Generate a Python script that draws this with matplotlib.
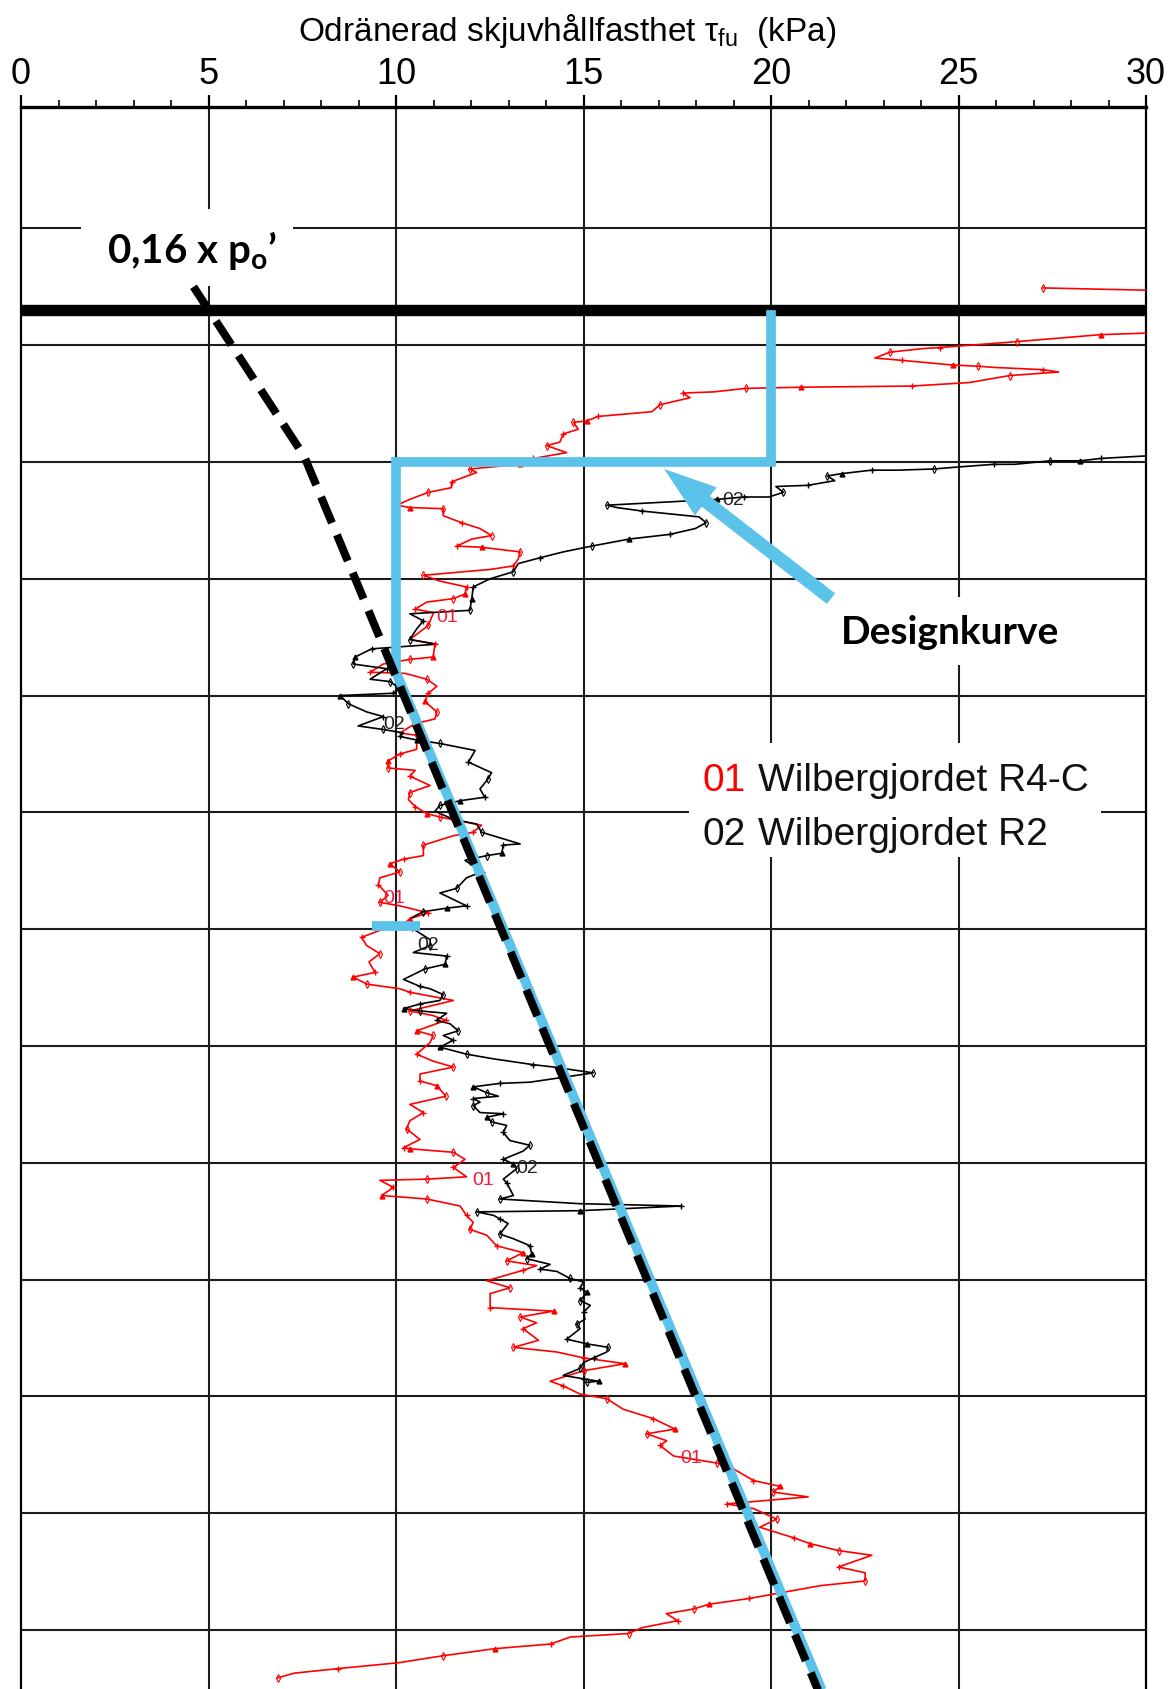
import matplotlib
matplotlib.use("Agg")
import matplotlib.pyplot as plt
from matplotlib import font_manager
from matplotlib.patches import Rectangle

# x-axis (kPa) and depth grid (m)
x_ticks = [0, 5, 10, 15, 20, 25, 30]
depth_lines = list(range(1, 14))

# 01 Wilbergjordet R4-C (red)
r4c_tau = [27.26, 31.5, 31.5, 28.79, 26.55, 25.33, 24.50, 24.03, 23.17, 22.77,
           23.49, 24.84, 25.51, 25.92, 27.26, 27.67, 26.37, 25.29, 23.76, 20.80,
           19.32, 18.47, 17.65, 17.84, 17.04, 16.82, 15.39, 15.08, 14.73, 14.86,
           14.46, 14.37, 14.02, 14.55, 13.66, 13.31, 11.97, 12.15, 11.48, 11.48,
           10.86, 10.37, 10.02, 10.37, 11.26, 11.26, 11.75, 12.24, 12.55, 12.02,
           11.62, 12.28, 13.31, 13.26, 13.13, 12.51, 10.73, 11.17, 11.88, 11.84,
           11.53, 10.82, 10.51, 11.00, 10.86, 10.37, 11.04, 10.99, 10.37, 9.66,
           9.31, 10.24, 10.82, 11.09, 10.86, 10.77, 11.09, 11.04, 10.51, 10.10,
           10.55, 10.55, 10.10, 9.79, 9.79, 10.51, 10.37, 10.91, 10.37, 10.33,
           10.51, 10.82, 11.17, 12.28, 12.06, 11.53, 10.73, 10.73, 10.20, 9.84,
           10.10, 9.57, 9.53, 9.79, 9.57, 10.10, 10.86, 10.37, 10.15, 9.57,
           9.08, 9.22, 9.57, 9.28, 9.44, 8.86, 9.22, 10.10, 10.37, 11.53,
           10.37, 10.99, 11.33, 10.55, 10.99, 10.91, 10.55, 10.99, 11.53, 10.64,
           10.64, 11.09, 11.33, 10.37, 10.73, 10.37, 10.28, 10.64, 10.20, 10.37,
           11.53, 11.84, 11.53, 11.88, 10.82, 9.57, 9.93, 9.62, 10.82, 11.71,
           11.88, 12.06, 11.97, 12.42, 12.68, 13.39, 12.95, 13.75, 13.39, 12.42,
           13.04, 12.51, 12.51, 14.20, 13.31, 13.75, 13.39, 13.80, 13.13, 14.29,
           15.00, 16.11, 15.00, 14.11, 14.46, 14.91, 15.62, 16.06, 16.86, 17.44,
           16.68, 17.22, 17.04, 17.40, 18.55, 19.00, 19.53, 20.24, 20.06, 20.99,
           18.82, 19.53, 20.15, 19.70, 20.60, 21.04, 21.80, 22.69, 21.80, 22.51,
           22.51, 21.32, 19.42, 18.34, 17.94, 17.21, 17.51, 16.56, 16.20, 14.65,
           14.12, 12.63, 11.26, 10.07, 8.46, 7.27, 6.85]
r4c_depth = [1.51, 1.54, 1.88, 1.91, 1.97, 2.00, 2.02, 2.03, 2.06, 2.11,
             2.13, 2.17, 2.18, 2.19, 2.21, 2.23, 2.26, 2.32, 2.35, 2.36,
             2.37, 2.40, 2.41, 2.45, 2.51, 2.57, 2.61, 2.65, 2.66, 2.72,
             2.76, 2.83, 2.86, 2.92, 2.97, 3.02, 3.06, 3.09, 3.17, 3.22,
             3.26, 3.32, 3.37, 3.39, 3.40, 3.46, 3.52, 3.57, 3.63, 3.66,
             3.72, 3.73, 3.77, 3.83, 3.89, 3.92, 3.97, 4.02, 4.07, 4.13,
             4.17, 4.20, 4.26, 4.29, 4.40, 4.52, 4.56, 4.67, 4.69, 4.73,
             4.80, 4.81, 4.86, 4.92, 4.98, 5.05, 5.14, 5.20, 5.24, 5.32,
             5.34, 5.46, 5.50, 5.56, 5.62, 5.64, 5.69, 5.77, 5.83, 5.89,
             5.95, 6.01, 6.04, 6.11, 6.17, 6.20, 6.28, 6.37, 6.40, 6.44,
             6.51, 6.56, 6.62, 6.71, 6.77, 6.80, 6.86, 6.91, 6.97, 7.01,
             7.07, 7.14, 7.21, 7.28, 7.37, 7.41, 7.47, 7.51, 7.54, 7.61,
             7.70, 7.74, 7.78, 7.87, 7.91, 7.97, 8.07, 8.13, 8.18, 8.24,
             8.30, 8.34, 8.43, 8.50, 8.57, 8.64, 8.71, 8.80, 8.87, 8.88,
             8.91, 8.97, 9.04, 9.12, 9.14, 9.15, 9.21, 9.28, 9.31, 9.37,
             9.45, 9.51, 9.57, 9.62, 9.71, 9.77, 9.84, 9.88, 9.92, 10.01,
             10.07, 10.12, 10.24, 10.27, 10.32, 10.37, 10.42, 10.52, 10.58, 10.62,
             10.67, 10.72, 10.78, 10.87, 10.91, 10.98, 11.02, 11.11, 11.19, 11.28,
             11.32, 11.38, 11.42, 11.51, 11.57, 11.62, 11.72, 11.77, 11.82, 11.86,
             11.92, 11.96, 12.05, 12.12, 12.21, 12.26, 12.32, 12.36, 12.46, 12.51,
             12.58, 12.62, 12.73, 12.78, 12.82, 12.86, 12.92, 12.98, 13.03, 13.06,
             13.12, 13.16, 13.22, 13.28, 13.33, 13.37, 13.41]

# 02 Wilbergjordet R2 (black)
r2_tau = [31.0, 29.91, 28.79, 28.25, 27.45, 26.50, 25.95, 25.11, 24.34, 23.40,
          22.68, 21.88, 21.50, 21.70, 20.98, 20.13, 20.33, 19.94, 19.27, 18.57,
          15.63, 15.88, 16.56, 18.08, 18.27, 17.98, 17.30, 16.22, 15.22, 14.46,
          13.84, 13.26, 13.13, 12.51, 12.06, 12.02, 11.97, 10.37, 10.73, 10.55,
          10.37, 11.08, 9.35, 8.91, 8.86, 9.31, 9.75, 9.31, 9.84, 10.10,
          9.93, 8.51, 8.73, 9.22, 9.66, 8.99, 9.66, 10.20, 10.10, 10.55,
          11.17, 12.11, 11.93, 12.55, 12.46, 12.24, 12.37, 11.71, 11.17, 11.04,
          11.53, 12.15, 12.28, 13.31, 12.86, 12.82, 12.42, 11.84, 12.28, 11.88,
          11.62, 11.17, 11.88, 11.35, 10.73, 10.37, 10.42, 10.91, 10.91, 10.46,
          11.35, 11.31, 10.77, 10.20, 10.64, 10.91, 11.26, 11.17, 10.64, 10.20,
          10.64, 11.35, 11.09, 11.44, 11.66, 11.26, 11.53, 11.17, 11.88, 12.60,
          13.66, 14.20, 15.26, 13.57, 12.77, 12.06, 12.42, 12.73, 12.06, 12.24,
          12.06, 12.24, 12.86, 12.42, 12.55, 12.95, 12.86, 13.04, 13.57, 13.39,
          12.86, 13.13, 13.22, 12.86, 12.95, 13.13, 12.77, 14.90, 17.61, 14.91,
          12.15, 12.60, 12.77, 12.99, 12.77, 13.13, 13.57, 13.62, 13.48, 14.11,
          13.84, 14.29, 14.64, 15.00, 14.91, 15.09, 14.91, 15.18, 15.00, 15.04,
          14.82, 14.91, 14.55, 15.09, 15.66, 15.62, 15.27, 15.00, 14.91, 14.46,
          15.00, 15.40, 15.09]
r2_depth = [2.93, 2.95, 2.97, 2.99, 2.99, 3.02, 3.02, 3.04, 3.06, 3.07,
            3.07, 3.10, 3.12, 3.16, 3.20, 3.21, 3.26, 3.30, 3.30, 3.32,
            3.37, 3.39, 3.42, 3.47, 3.52, 3.57, 3.62, 3.66, 3.72, 3.77,
            3.82, 3.87, 3.94, 4.00, 4.07, 4.17, 4.27, 4.30, 4.36, 4.43,
            4.52, 4.56, 4.60, 4.67, 4.73, 4.75, 4.77, 4.86, 4.88, 4.94,
            4.98, 5.00, 5.07, 5.14, 5.18, 5.26, 5.29, 5.32, 5.35, 5.38,
            5.41, 5.47, 5.57, 5.66, 5.71, 5.80, 5.87, 5.90, 5.94, 5.99,
            6.06, 6.10, 6.17, 6.27, 6.28, 6.35, 6.37, 6.41, 6.51, 6.56,
            6.65, 6.69, 6.80, 6.82, 6.85, 6.91, 6.99, 7.09, 7.14, 7.20,
            7.23, 7.30, 7.34, 7.43, 7.49, 7.51, 7.56, 7.61, 7.64, 7.68,
            7.70, 7.72, 7.78, 7.81, 7.87, 7.91, 7.95, 8.01, 8.07, 8.11,
            8.16, 8.18, 8.23, 8.31, 8.32, 8.35, 8.40, 8.43, 8.45, 8.48,
            8.51, 8.57, 8.58, 8.61, 8.65, 8.68, 8.74, 8.81, 8.85, 8.90,
            8.97, 9.01, 9.05, 9.14, 9.17, 9.28, 9.31, 9.35, 9.37, 9.41,
            9.42, 9.45, 9.48, 9.52, 9.61, 9.65, 9.71, 9.78, 9.82, 9.87,
            9.91, 9.93, 9.99, 10.02, 10.07, 10.11, 10.18, 10.22, 10.28, 10.34,
            10.38, 10.42, 10.51, 10.55, 10.58, 10.62, 10.67, 10.71, 10.76, 10.82,
            10.85, 10.87, 10.88]

# 0,16 x po' line
po_tau = [4.6, 7.55, 21.3]
po_depth = [1.50, 2.95, 13.55]

# Designkurve
design_tau = [20, 20, 10, 10, 21.4]
design_depth = [1.70, 3.0, 3.0, 4.80, 13.55]
stub_tau = [9.35, 10.64]
stub_depth = [6.97, 6.97]

excavation_depth = 1.70

# curve labels along the profiles
curve_labels = ["02", "01", "02", "01", "02", "01", "02", "01"]
curve_label_tau = [19.0, 11.37, 9.95, 9.95, 10.87, 12.32, 13.5, 17.86]
curve_label_depth = [3.32, 4.32, 5.24, 6.73, 7.13, 9.14, 9.04, 11.52]

RED = "#ff0000"
BLUE = "#5bc2ea"
GRID = "#1c1c1c"

names = {f.name for f in font_manager.fontManager.ttflist}
narrow = "Liberation Sans Narrow" if "Liberation Sans Narrow" in names else "Liberation Sans"
bold_font = "Lato" if "Lato" in names else "Open Sans"

plt.rcParams["font.family"] = ["Liberation Sans", "DejaVu Sans"]
plt.rcParams["mathtext.fontset"] = "custom"
plt.rcParams["mathtext.bf"] = bold_font + ":bold"
plt.rcParams["mathtext.rm"] = bold_font

fig = plt.figure(figsize=(11.75, 16.9), dpi=100)
ax = fig.add_axes([21 / 1175, 0, 1125 / 1175, 1 - 108 / 1690])
ax.set_xlim(0, 30)
ax.set_ylim(13.505, -0.039)

# grid
for v in x_ticks[1:-1]:
    ax.axvline(v, color=GRID, lw=1.5, zorder=1)
for d in depth_lines:
    ax.axhline(d, color=GRID, lw=1.5, zorder=1)

# excavation level
ax.axhline(excavation_depth, color="black", lw=8.2, zorder=3)

# CPT profiles
ax.plot(r4c_tau, r4c_depth, color=RED, lw=1.2, zorder=4)
ax.plot(r2_tau, r2_depth, color="black", lw=1.2, zorder=4)
for col, xs, ys in [(RED, r4c_tau, r4c_depth), ("black", r2_tau, r2_depth)]:
    ax.plot(xs, ys, ls="none", marker="d", ms=4, mfc="none", mec=col, mew=0.8,
            markevery=(0, 4), zorder=4)
    ax.plot(xs, ys, ls="none", marker="+", ms=5, mec=col, mew=1.0,
            markevery=(2, 4), zorder=4)
    ax.plot(xs, ys, ls="none", marker="^", ms=3.5, mfc=col, mec=col,
            markevery=(3, 8), zorder=4)

for txt, t, d in zip(curve_labels, curve_label_tau, curve_label_depth):
    ax.text(t, d, txt, color="#ee1c3a" if txt == "01" else "#222222",
            fontsize=14, ha="center", va="center", zorder=5)

# design curve and 0,16 po' line
ax.plot(design_tau, design_depth, color=BLUE, lw=7, solid_capstyle="butt",
        solid_joinstyle="miter", zorder=6)
ax.plot(stub_tau, stub_depth, color=BLUE, lw=7, solid_capstyle="butt", zorder=6)
ax.plot(po_tau, po_depth, color="black", lw=5.8, dashes=(3.5, 1.6),
        dash_capstyle="butt", zorder=7)

ax.annotate("", xy=(17.15, 3.06), xytext=(21.6, 4.17),
            arrowprops=dict(arrowstyle="simple,head_length=0.95,head_width=0.64,tail_width=0.24",
                            mutation_scale=40, color=BLUE, lw=0,
                            shrinkA=0, shrinkB=0), zorder=6)

# white boxes behind annotations
ax.add_patch(Rectangle((1.6, 0.83), 5.65, 0.66, fc="white", ec="none", zorder=2))
ax.add_patch(Rectangle((21.57, 4.16), 6.35, 0.58, fc="white", ec="none", zorder=2))
ax.add_patch(Rectangle((17.8, 5.41), 11.0, 0.97, fc="white", ec="none", zorder=2))

ax.text(4.55, 1.18, "0,16 x p$_\\mathbf{o}$\u2019", family=bold_font, fontweight="bold",
        fontsize=29, ha="center", va="center", zorder=8)
ax.text(24.77, 4.455, "Designkurve", family=bold_font, fontweight="bold",
        fontsize=28, ha="center", va="center", zorder=8)

# legend
ax.text(18.18, 5.81, "01", color=RED, fontsize=28, ha="left", va="baseline", zorder=8)
ax.text(19.64, 5.81, "Wilbergjordet R4-C", color="#111111", fontsize=28,
        ha="left", va="baseline", zorder=8)
ax.text(18.18, 6.27, "02", color="#111111", fontsize=28, ha="left", va="baseline", zorder=8)
ax.text(19.64, 6.27, "Wilbergjordet R2", color="#111111", fontsize=28,
        ha="left", va="baseline", zorder=8)

# axes styling
ax.xaxis.tick_top()
ax.set_xticks(x_ticks)
ax.set_xticks(range(31), minor=True)
ax.tick_params(axis="x", which="major", direction="out", length=8.5, width=1.6,
               pad=3, labelsize=26, colors="black")
ax.tick_params(axis="x", which="minor", direction="out", length=5, width=1.2)
for lab in ax.get_xticklabels():
    lab.set_family(narrow)
ax.tick_params(axis="y", left=False, labelleft=False)
ax.spines["top"].set_linewidth(2.4)
ax.spines["left"].set_linewidth(1.6)
ax.spines["right"].set_linewidth(1.6)
ax.spines["bottom"].set_visible(False)

fig.text(567 / 1175, 1 - 41 / 1690, "Odränerad skjuvhållfasthet τ$_{\\mathregular{fu}}$  (kPa)",
         family=narrow, fontsize=24, ha="center", va="baseline")

fig.savefig("out.png", dpi=100)
